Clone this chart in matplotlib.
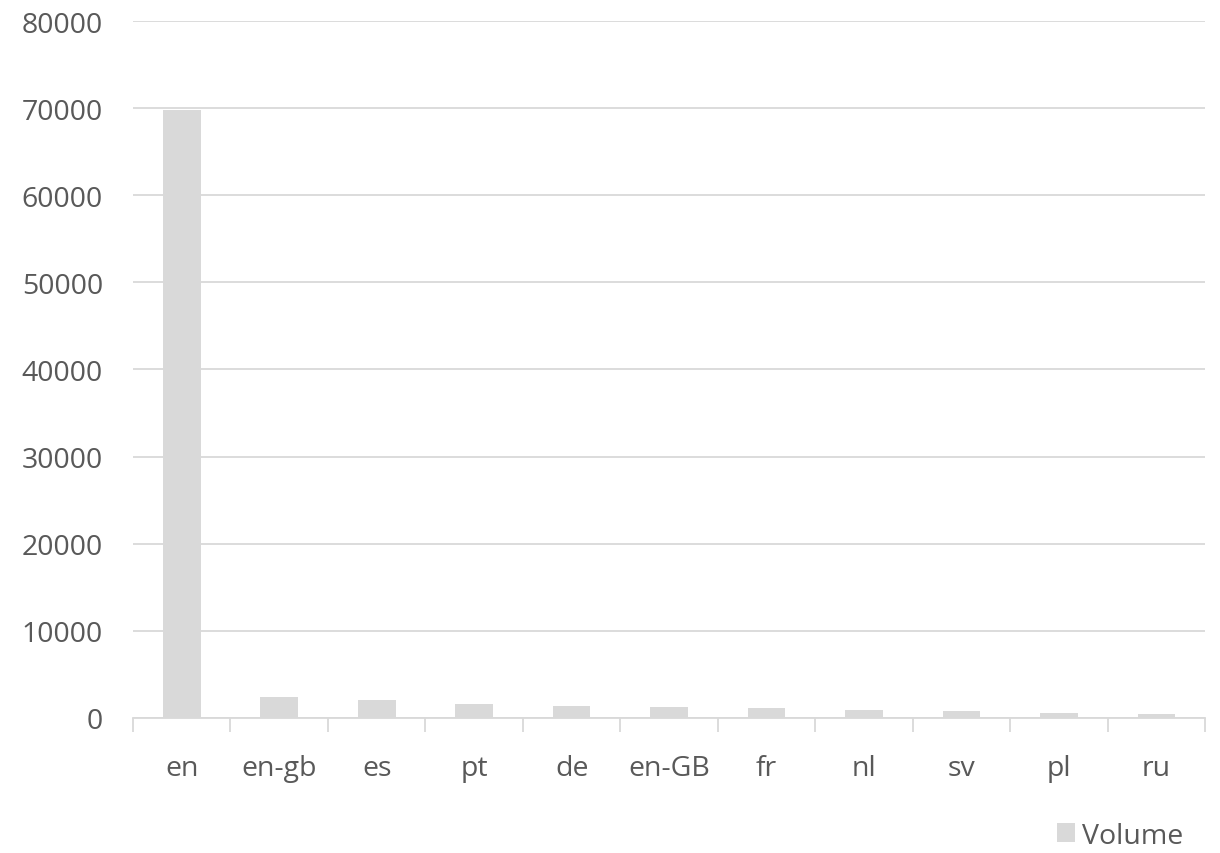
import matplotlib
matplotlib.use("Agg")
import matplotlib.pyplot as plt
from matplotlib.patches import Patch
from matplotlib.ticker import FixedLocator

categories = ["en", "en-gb", "es", "pt", "de", "en-GB", "fr", "nl", "sv", "pl", "ru"]
volume = [69800, 2380, 2030, 1540, 1380, 1260, 1150, 880, 800, 540, 390]
y_ticks = [0, 10000, 20000, 30000, 40000, 50000, 60000, 70000, 80000]

plt.rcParams['font.family'] = ['Open Sans', 'DejaVu Sans']
text_color = "#595959"
grid_color = "#d9d9d9"
bar_color = "#d9d9d9"
fs = 20.5

fig = plt.figure(figsize=(12.2, 8.54), dpi=100)
ax = fig.add_axes([0.109, 0.1584, 0.879, 0.8156])

x = list(range(len(categories)))
ax.bar(x, volume, width=0.386, color=bar_color, zorder=3)

ax.set_xlim(-0.5, len(categories) - 0.5)
ax.set_ylim(0, 80000)
ax.set_yticks(y_ticks)
ax.set_yticklabels([str(v) for v in y_ticks])
ax.set_xticks(x)
ax.set_xticklabels(categories)
ax.xaxis.set_minor_locator(FixedLocator([i - 0.5 for i in range(len(categories) + 1)]))

ax.grid(axis='y', color=grid_color, linewidth=1.3, zorder=0)
for s in ['top', 'right', 'left']:
    ax.spines[s].set_visible(False)
ax.spines['bottom'].set_color(grid_color)
ax.spines['bottom'].set_linewidth(1.3)

ax.tick_params(axis='y', length=0, pad=21.5, labelsize=fs, labelcolor=text_color)
ax.tick_params(axis='x', which='major', length=0, pad=26, labelsize=fs, labelcolor=text_color)
ax.tick_params(axis='x', which='minor', length=10, width=1.3, color=grid_color, direction='out')

handles = [Patch(facecolor=bar_color, edgecolor='none', label='Volume')]
fig.legend(handles=handles, loc='lower right', bbox_to_anchor=(0.991, -0.026), frameon=False,
           fontsize=fs, labelcolor=text_color, handlelength=0.62, handleheight=0.62,
           handletextpad=0.25)

fig.savefig("out.png", dpi=100)
